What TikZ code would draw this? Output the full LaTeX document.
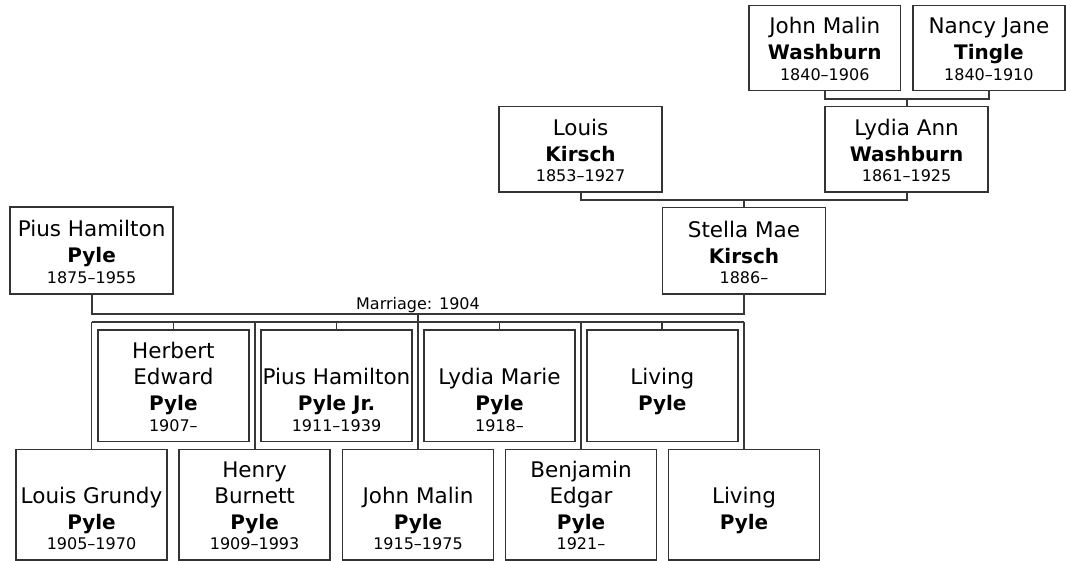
\documentclass[tikz,border=0pt]{standalone}
\usepackage{fontspec}
\setmainfont{DejaVu Sans}
\newcommand\pp[5]{\parbox[c][#2pt][b]{#1pt}{\centering\parskip=0pt
  \fontsize{21.5}{26}\selectfont #3\par
  {\bfseries\fontsize{20}{26}\selectfont #4\par}
  {\fontsize{16}{20.5}\selectfont\rule{0pt}{10pt}#5\par}\kern-\prevdepth\kern10.5pt}}
\definecolor{boxcol}{HTML}{333333}
\definecolor{linecol}{HTML}{383838}
\tikzset{
  pbox/.style={draw=boxcol, line width=1.6pt, inner sep=0pt, outer sep=0pt, fill=white},
  conn/.style={draw=linecol, line width=1.8pt},
}
\begin{document}
\begin{tikzpicture}[x=1pt,y=-1pt]
\useasboundingbox (0,0) rectangle (1066,561);
% grandparents
\node[pbox] (jmw) at (824.75,48.2) {\pp{151.5}{85}{John Malin}{Washburn}{1840–1906}};
\node[pbox] (njt) at (988.9,48.2) {\pp{152}{85}{Nancy Jane}{Tingle}{1840–1910}};
% parents of Stella
\node[pbox] (lk) at (580.6,149.5) {\pp{163}{85.6}{Louis}{Kirsch}{1853–1927}};
\node[pbox] (lak) at (906.6,149.5) {\pp{163}{85.6}{Lydia Ann}{Washburn}{1861–1925}};
% couple
\node[pbox] (phk) at (91.6,250.5) {\pp{163}{86.5}{Pius Hamilton}{Pyle}{1875–1955}};
\node[pbox] (smk) at (744,250.8) {\pp{163}{86.5}{Stella Mae}{Kirsch}{1886–}};
% children, upper row
\node[pbox] (t1) at (173.4,385.8) {\pp{151}{111.5}{Herbert\\Edward}{Pyle}{1907–}};
\node[pbox] (t2) at (336.5,385.8) {\pp{151}{111.5}{Pius Hamilton}{Pyle Jr.}{1911–1939}};
\node[pbox] (t3) at (499.5,385.8) {\pp{151}{111.5}{Lydia Marie}{Pyle}{1918–}};
\node[pbox] (t4) at (662.3,385.8) {\pp{151}{111.5}{Living}{Pyle}{}};
% children, lower row
\node[pbox] (b1) at (91.5,504.7) {\pp{151}{110.7}{Louis Grundy}{Pyle}{1905–1970}};
\node[pbox] (b2) at (254.6,504.7) {\pp{151}{110.7}{Henry\\Burnett}{Pyle}{1909–1993}};
\node[pbox] (b3) at (418,504.7) {\pp{151}{110.7}{John Malin}{Pyle}{1915–1975}};
\node[pbox] (b4) at (581,504.7) {\pp{151}{110.7}{Benjamin\\Edgar}{Pyle}{1921–}};
\node[pbox] (b5) at (744,504.7) {\pp{151}{110.7}{Living}{Pyle}{}};
% connectors
\coordinate (g1) at (906.6,98.7);
\draw[conn] (jmw.south) -- (jmw.south |- g1) -- (njt.south |- g1) -- (njt.south);
\draw[conn] (lak.north) -- (g1);
\coordinate (g2) at (744,200);
\draw[conn] (lk.south) -- (lk.south |- g2) -- (lak.south |- g2) -- (lak.south);
\draw[conn] (smk.north) -- (g2);
\coordinate (mar) at (418,314);
\draw[conn] (phk.south) -- (phk.south |- mar) -- (smk.south |- mar) -- (smk.south);
\node[anchor=base, inner sep=0pt, font=\fontsize{16}{19}\selectfont] (mlab) at (418,310) {Marriage: 1904};
\coordinate (fr) at (418,322.3);
\draw[conn] (b1.north |- fr) -- (b5.north |- fr);
\draw[conn] (b3.north) -- (b3.north |- mar);
\foreach \n in {b1,b2,b4,b5} {\draw[conn] (\n.north) -- (\n.north |- fr);}
\foreach \n in {t1,t2,t3,t4} {\draw[conn] (\n.north) -- (\n.north |- fr);}
\end{tikzpicture}
\end{document}
